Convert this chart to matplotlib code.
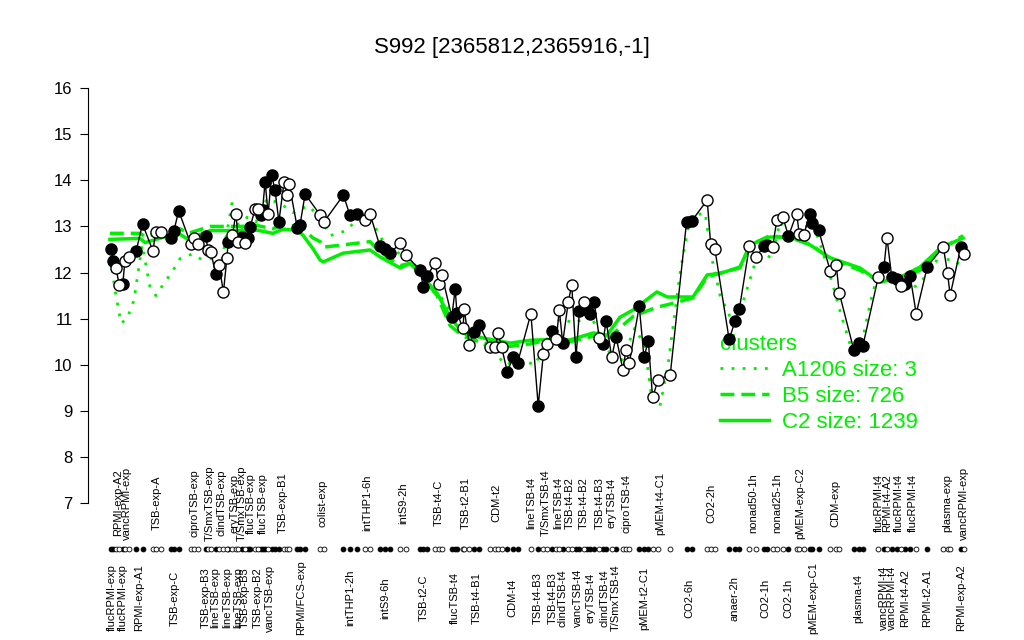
import numpy as np
import matplotlib
matplotlib.use('Agg')
import matplotlib.pyplot as plt
from matplotlib.lines import Line2D

plt.rcParams['font.family'] = ['Liberation Sans', 'DejaVu Sans']

TITLE = 'S992 [2365812,2365916,-1]'
GREEN = '#00ee00'

# --- condition groups, in plotting order ---
group_names = [
    'flucRPMI-exp', 'RPMI-exp-A2', 'flucRPMI-exp', 'vancRPMI-exp', 'RPMI-exp-A1',
    'TSB-exp-A', 'TSB-exp-C', 'ciproTSB-exp', 'TSB-exp-B3', 'T/SmxTSB-exp',
    'lineTSB-exp', 'clindTSB-exp', 'lineTSB-exp', 'eryTSB-exp', 'lineTSB-exp',
    'T/SmxTSB-exp', 'TSB-exp-B3', 'flucTSB-exp', 'TSB-exp-B2', 'flucTSB-exp',
    'vancTSB-exp', 'TSB-exp-B1', 'RPMI/FCS-exp', 'colist-exp', 'intTHP1-2h',
    'intTHP1-6h', 'intS9-6h', 'intS9-2h', 'TSB-t2-C', 'TSB-t4-C',
    'flucTSB-t4', 'TSB-t2-B1', 'TSB-t4-B1', 'CDM-t2', 'CDM-t4',
    'lineTSB-t4', 'TSB-t4-B3', 'T/SmxTSB-t4', 'TSB-t4-B3', 'lineTSB-t4',
    'clindTSB-t4', 'TSB-t4-B2', 'vancTSB-t4', 'TSB-t4-B2', 'eryTSB-t4',
    'TSB-t4-B3', 'clindTSB-t4', 'eryTSB-t4', 'T/SmxTSB-t4', 'ciproTSB-t4',
    'pMEM-t2-C1', 'pMEM-t4-C1', 'CO2-6h', 'CO2-2h', 'anaer-2h',
    'nonad50-1h', 'CO2-1h', 'nonad25-1h', 'CO2-1h', 'pMEM-exp-C2',
    'pMEM-exp-C1', 'CDM-exp', 'plasma-t4', 'flucRPMI-t4', 'vancRPMI-t4',
    'RPMI-t4-A2', 'vancRPMI-t4', 'flucRPMI-t4', 'RPMI-t4-A2', 'flucRPMI-t4',
    'RPMI-t2-A1', 'plasma-exp', 'RPMI-exp-A2', 'vancRPMI-exp',
]
group_sizes = [
    2, 2, 1, 2, 2, 3, 3, 3, 1, 2,
    1, 2, 2, 2, 1, 1, 1, 3, 1, 3,
    2, 5, 3, 2, 3, 2, 3, 2, 3, 3,
    3, 3, 2, 4, 3, 1, 1, 2, 1, 2,
    1, 2, 2, 1, 3, 1, 2, 1, 1, 3,
    3, 3, 2, 3, 3, 2, 2, 3, 1, 3,
    3, 3, 3, 1, 1, 1, 1, 2, 1, 2,
    1, 3, 1, 1,
]

# --- samples (position along the sample axis, expression, filled marker) ---
sample_pos = [
    1.1, 1.7, 2.3, 3.1, 3.9, 4.4, 5.4, 7.0, 8.5,
    10.9, 11.6, 12.7, 15.0, 15.8, 16.9, 19.7, 20.5, 21.3,
    23.2, 23.7, 24.4, 25.5, 26.3, 27.3, 28.1, 28.4, 29.4, 30.2,
    30.8, 31.6, 32.3, 33.0, 33.5, 34.7, 35.4, 36.0, 36.4, 37.0,
    37.7, 38.5, 39.3, 40.2, 41.4, 42.2, 42.6, 44.5, 45.1, 46.3,
    49.8, 50.7, 55.2, 56.7, 58.3, 60.2, 61.4, 63.7, 64.9, 66.0,
    68.4, 69.8, 73.0, 73.8, 74.6, 76.5, 77.5, 78.1, 80.4, 81.2, 81.6,
    83.0, 83.3, 84.5, 85.6, 86.8, 89.3, 90.5, 91.2, 92.0, 93.3, 94.7, 95.7,
    98.8, 100.5, 101.7, 102.6, 103.8, 104.7, 105.4, 106.2, 107.5, 108.3,
    109.3, 110.1, 111.2, 111.8, 112.6, 113.5, 114.7, 115.5, 116.3, 117.6,
    118.6, 120.2, 120.9, 121.7, 124.0, 125.1, 126.1, 127.1, 128.4, 131.2,
    135.0, 136.2, 139.8, 140.6, 141.6, 144.9, 146.3, 147.3, 149.6, 151.2,
    152.9, 153.8, 155.0, 156.0, 157.4, 158.7, 160.6, 161.2, 162.3,
    163.6, 164.1, 165.7, 168.4, 169.8, 170.5, 173.9, 175.2, 176.0,
    179.6, 180.9, 181.6, 182.7, 184.0, 184.8, 185.8, 187.0, 188.4,
    191.0, 194.7, 195.7, 196.3, 198.8, 199.5,
]
sample_val = [
    12.52, 12.26, 12.09, 11.73, 11.75, 12.26, 12.34, 12.47, 13.05,
    12.47, 12.89, 12.89, 12.74, 12.91, 13.34, 12.62, 12.74, 12.62,
    12.80, 12.49, 12.44, 11.96, 12.16, 11.57, 12.31, 12.66, 12.81, 13.28,
    12.67, 12.78, 12.63, 12.74, 12.99, 13.38, 13.38, 13.25, 13.36, 13.97,
    13.27, 14.11, 13.79, 13.10, 13.97, 13.68, 13.92, 12.96, 13.03, 13.70,
    13.25, 13.10, 13.68, 13.25, 13.28, 13.15, 13.27, 12.57, 12.50, 12.42,
    12.63, 12.38, 12.05, 11.69, 11.92, 12.20, 11.75, 11.95, 11.04, 11.64, 11.13,
    10.79, 11.20, 10.43, 10.72, 10.86, 10.39, 10.38, 10.68, 10.38, 9.85, 10.16, 10.04,
    11.11, 9.11, 10.23, 10.45, 10.74, 10.55, 11.19, 10.48, 11.37, 11.73,
    10.17, 11.17, 11.37, 11.19, 11.11, 11.37, 10.59, 10.46, 10.95, 10.16,
    10.61, 9.89, 10.32, 10.04, 11.27, 10.16, 10.52, 9.29, 9.68, 9.78,
    13.10, 13.12, 13.57, 12.62, 12.50, 10.55, 10.95, 11.22, 12.57, 12.33,
    12.57, 12.60, 12.56, 13.14, 13.20, 12.79, 13.28, 12.84, 12.82,
    13.28, 13.08, 12.92, 12.04, 12.16, 11.56, 10.32, 10.48, 10.41,
    11.91, 12.11, 12.76, 11.91, 11.87, 11.71, 11.75, 11.92, 11.11,
    12.13, 12.56, 11.98, 11.51, 12.56, 12.40,
]
sample_filled = [
    1, 1, 0, 0, 1, 0, 0, 1, 1,
    0, 0, 0, 1, 1, 1, 0, 0, 0,
    1, 0, 0, 1, 0, 0, 0, 1, 0, 0,
    0, 1, 0, 1, 1, 0, 0, 1, 1, 1,
    0, 1, 1, 1, 0, 0, 0, 1, 1, 1,
    0, 0, 1, 1, 1, 0, 0, 1, 1, 1,
    0, 0, 1, 1, 1, 0, 0, 0, 1, 1, 1,
    0, 0, 0, 1, 1, 0, 0, 0, 0, 1, 1, 1,
    0, 1, 0, 0, 1, 0, 0, 1, 0, 0,
    1, 1, 0, 1, 1, 1, 0, 1, 1, 0,
    1, 0, 0, 0, 1, 1, 1, 0, 0, 0,
    1, 1, 0, 0, 0, 1, 1, 1, 0, 0,
    1, 1, 0, 0, 0, 1, 0, 0, 0,
    1, 1, 1, 0, 0, 0, 1, 1, 1,
    0, 1, 0, 1, 1, 0, 1, 1, 0,
    1, 0, 0, 0, 1, 0,
]

# --- cluster profiles ---
c2_pos = [0.9, 7.9, 9.1, 14.2, 17.2, 19.1, 24.2, 31.2, 35.1, 38.8, 41.2, 44.4,
          45.8, 48.1, 49.8, 50.5, 55.1, 61.4, 63.7, 68.4, 70.7, 73.0, 77.0,
          80.0, 83.0, 87.7, 94.0, 98.6, 100.9, 107.9, 113.3, 116.5, 119.5,
          122.6, 128.1, 130.5, 136.5, 139.8, 142.8, 147.4, 149.8, 154.4,
          159.1, 163.7, 168.4, 175.3, 180.0, 184.7, 189.3, 194.0, 199.3]
c2_val = [12.72, 12.74, 12.65, 12.79, 12.83, 12.72, 12.91, 12.91, 12.92, 12.85,
          12.94, 12.92, 12.81, 12.52, 12.27, 12.23, 12.42, 12.49, 12.34, 12.10,
          12.20, 11.98, 11.55, 11.03, 10.69, 10.58, 10.47, 10.53, 10.54, 10.54,
          10.69, 10.64, 11.03, 11.19, 11.58, 11.47, 11.47, 11.95, 11.98, 12.12,
          12.60, 12.77, 12.77, 12.60, 12.32, 12.10, 11.79, 11.90, 12.12, 12.53,
          12.75]
b5_val = [12.85, 12.85, 12.78, 12.90, 12.95, 12.85, 13.00, 13.00, 13.02, 12.95,
          13.05, 13.00, 12.95, 12.75, 12.67, 12.55, 12.60, 12.67, 12.45, 12.15,
          12.20, 11.98, 11.50, 10.85, 10.62, 10.47, 10.40, 10.45, 10.50, 10.50,
          10.62, 10.55, 10.80, 11.05, 11.25, 11.30, 11.45, 11.90, 11.99, 12.10,
          12.60, 12.80, 12.75, 12.62, 12.30, 12.05, 11.80, 11.85, 12.05, 12.50,
          12.80]
a1206_pos = [1.0, 2.3, 3.5, 4.9, 6.5, 8.4, 10.2, 11.6, 13.7, 15.3, 17.2, 20.0,
             21.9, 24.2, 27.0, 29.3, 31.2, 32.8, 34.9, 37.4, 40.5, 43.5, 47.0,
             49.8, 52.1, 55.6, 59.1, 61.9, 64.9, 68.4, 71.2, 74.2, 77.7, 81.2,
             84.7, 89.3, 92.8, 96.3, 99.8, 103.3, 105.6, 109.1, 112.6, 116.0,
             119.5, 123.0, 125.3, 127.0, 128.8, 130.7, 133.5, 135.8, 139.3,
             140.9, 142.8, 146.3, 148.6, 150.9, 153.3, 154.9, 156.7, 159.1,
             161.4, 164.2, 166.5, 168.8, 171.2, 173.5, 175.8, 178.1, 180.0,
             182.3, 184.7, 187.0, 189.3, 191.6, 195.1, 196.7, 199.8]
a1206_val = [12.3, 11.5, 10.9, 11.0, 11.4, 12.6, 11.7, 11.5, 11.8, 12.0, 12.3,
             12.4, 12.3, 12.3, 12.3, 13.5, 12.9, 13.2, 13.1, 13.6, 13.5, 13.3,
             13.45, 13.2, 12.8, 12.9, 13.2, 13.1, 12.6, 12.4, 12.3, 11.7, 11.5,
             11.0, 10.5, 10.4, 10.0, 10.1, 10.0, 10.7, 11.0, 10.9, 11.1, 10.4,
             10.0, 10.8, 10.4, 9.2, 9.1, 10.0, 12.0, 13.2, 13.3, 12.3, 11.5,
             10.8, 11.5, 12.2, 12.4, 12.3, 13.1, 12.8, 12.9, 13.1, 12.5, 11.8,
             11.0, 10.3, 10.5, 11.5, 12.1, 11.8, 11.7, 11.6, 11.8, 12.0, 12.6,
             11.9, 12.6]

legend_labels = ['A1206 size: 3', 'B5 size: 726', 'C2 size: 1239']

# ---------------------------------------------------------------
pos = np.array(sample_pos)
val = np.array(sample_val)
filled = np.array(sample_filled, dtype=bool)

fig = plt.figure(figsize=(10.24, 6.4), dpi=100)
ax = fig.add_axes([88 / 1024, 0, 897 / 1024, 580 / 640])
ax.set_xlim(-4.19, 204.4)
ax.set_ylim(4.03, 16.61)

# cluster lines
ax.plot(a1206_pos, a1206_val, color=GREEN, lw=2, ls=(0, (1, 3)), zorder=1.5)
ax.plot(c2_pos, b5_val, color=GREEN, lw=2.5, ls=(0, (4, 2)), zorder=1.5)
ax.plot(c2_pos, c2_val, color=GREEN, lw=2.5, zorder=1.5)

# sample profile
ax.plot(pos, val, color='black', lw=1, zorder=2)
ax.plot(pos[filled], val[filled], 'o', ms=8, mfc='black', mec='black', mew=1, zorder=3)
ax.plot(pos[~filled], val[~filled], 'o', ms=8, mfc='white', mec='black', mew=1, zorder=3)

# sample rug
ax.plot(pos[filled], np.full(filled.sum(), 6.0), 'o', ms=3.5, mfc='black', mec='black',
        mew=0.6, clip_on=False)
ax.plot(pos[~filled], np.full((~filled).sum(), 6.0), 'o', ms=3.5, mfc='white', mec='black',
        mew=0.6, clip_on=False)

# condition labels, alternating below / above the rug
bounds = np.cumsum([0] + group_sizes)
for i, name in enumerate(group_names):
    xc = pos[bounds[i]:bounds[i + 1]].mean()
    ycent = 4.94 if i % 2 == 0 else 7.0
    ax.text(xc, ycent, name, rotation=90, ha='center', va='center',
            fontsize=8, clip_on=False)

# axes styling
for side in ['top', 'right', 'bottom']:
    ax.spines[side].set_visible(False)
ax.spines['left'].set_bounds(7, 16)
ax.set_yticks(range(7, 17))
ax.tick_params(axis='y', length=6, labelsize=12, pad=5)
ax.set_xticks([])

fig.text(0.5, 1 - 47 / 640, TITLE, ha='center', va='center', fontsize=16)

handles = [Line2D([], [], color=GREEN, lw=2, ls=(0, (1, 3))),
           Line2D([], [], color=GREEN, lw=2.5, ls=(0, (4, 2))),
           Line2D([], [], color=GREEN, lw=2.5)]
leg = ax.legend(handles, legend_labels, title='clusters', loc='upper left',
                bbox_to_anchor=(0.7046, 0.527), frameon=False, fontsize=16,
                title_fontsize=16, labelspacing=0.22, handlelength=2.2,
                handletextpad=0.6, borderpad=0, borderaxespad=0)
for t in leg.get_texts():
    t.set_color(GREEN)
leg.get_title().set_color(GREEN)
leg._legend_box.align = 'left'
leg.set_zorder(1)

fig.savefig('out.png', dpi=100)
